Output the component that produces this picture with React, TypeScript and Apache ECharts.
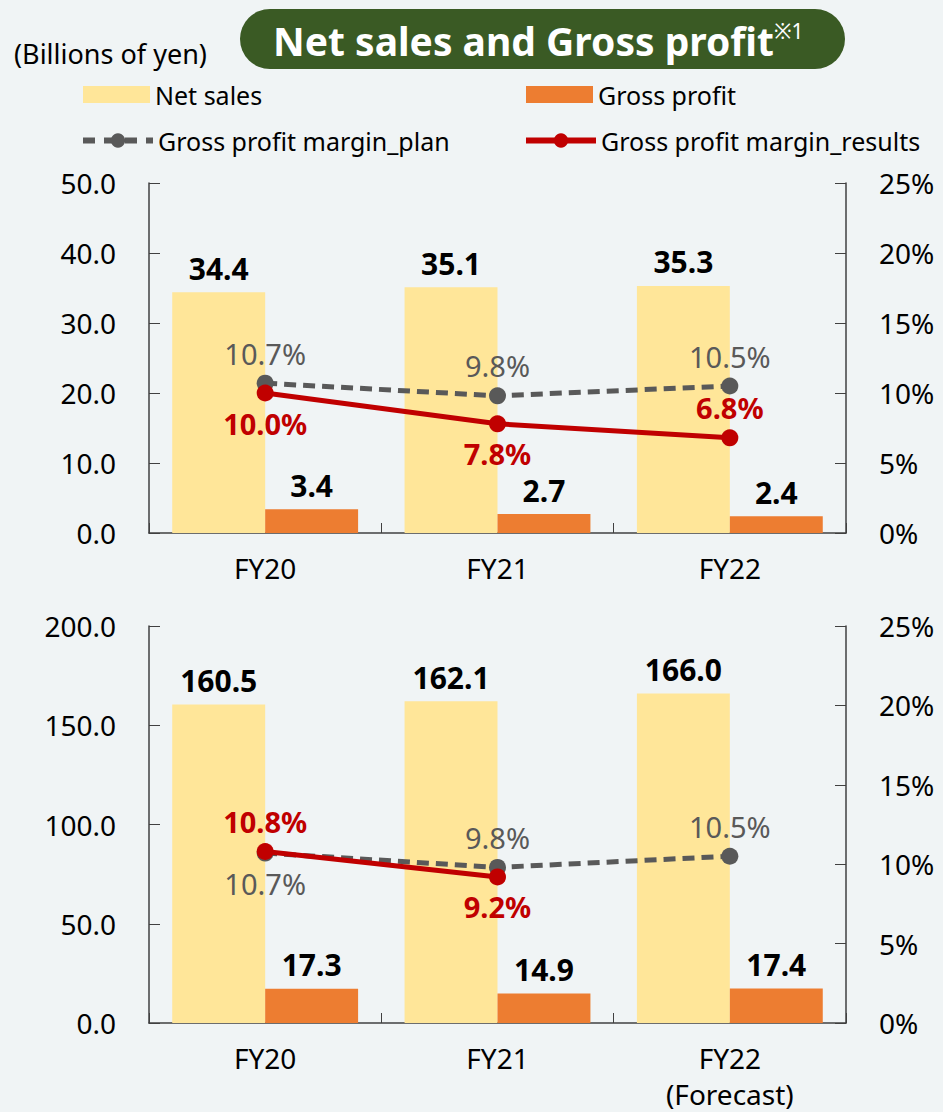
import React, { useEffect, useRef } from "react";
import * as echarts from "echarts";

const categoriesTop = ["FY20", "FY21", "FY22"];
const categoriesBottom = ["FY20", "FY21", "FY22\n(Forecast)"];

const netSalesTop = [34.4, 35.1, 35.3];
const grossProfitTop = [3.4, 2.7, 2.4];
const marginPlanTop = [10.7, 9.8, 10.5];
const marginResultsTop = [10.0, 7.8, 6.8];

const netSalesBottom = [160.5, 162.1, 166.0];
const grossProfitBottom = [17.3, 14.9, 17.4];
const marginPlanBottom = [10.7, 9.8, 10.5];
const marginResultsBottom: (number | null)[] = [10.8, 9.2, null];

const leftTicksTop = { min: 0, max: 50, interval: 10 };
const leftTicksBottom = { min: 0, max: 200, interval: 50 };
const rightTicks = { min: 0, max: 25, interval: 5 };

const FONT = "'Noto Sans', 'Noto Sans CJK JP', sans-serif";
const BG = "#F0F4F5";
const C_NET = "#FFE699";
const C_GROSS = "#ED7D31";
const C_PLAN = "#595959";
const C_RES = "#C00000";
const C_AXIS = "#404040";

function withPos(values: (number | null)[], positions: string[]) {
  return values.map((v, i) =>
    v === null ? null : { value: v, label: { position: positions[i] } }
  );
}

export default function App() {
  const ref = useRef<HTMLDivElement>(null);

  useEffect(() => {
    if (!ref.current) return;
    const chart = echarts.init(ref.current, null, { renderer: "svg" });

    const grids = [
      { left: 149, right: 97, top: 183, height: 350 },
      { left: 149, right: 97, top: 626, height: 399 },
    ];

    const xAxisBase = (cats: string[], gridIndex: number) => ({
      type: "category",
      gridIndex,
      data: cats,
      axisLine: { show: true, lineStyle: { color: C_AXIS, width: 1.5 } },
      axisTick: { show: true, inside: true, length: 10, lineStyle: { color: C_AXIS } },
      axisLabel: {
        color: "#000",
        fontSize: 28,
        fontFamily: FONT,
        margin: 17,
        lineHeight: 36,
      },
    });

    const yLeft = (t: any, gridIndex: number) => ({
      type: "value",
      gridIndex,
      position: "left",
      min: t.min,
      max: t.max,
      interval: t.interval,
      splitLine: { show: false },
      axisLine: { show: true, lineStyle: { color: C_AXIS, width: 1.5 } },
      axisTick: { show: true, inside: true, length: 11, lineStyle: { color: C_AXIS } },
      axisLabel: {
        color: "#000",
        fontSize: 28,
        fontFamily: FONT,
        margin: 33,
        formatter: (v: number) => v.toFixed(1),
      },
    });

    const yRight = (gridIndex: number) => ({
      type: "value",
      gridIndex,
      position: "right",
      min: rightTicks.min,
      max: rightTicks.max,
      interval: rightTicks.interval,
      splitLine: { show: false },
      axisLine: { show: true, lineStyle: { color: C_AXIS, width: 1.5 } },
      axisTick: { show: true, inside: true, length: 11, lineStyle: { color: C_AXIS } },
      axisLabel: {
        color: "#000",
        fontSize: 28,
        fontFamily: FONT,
        margin: 33,
        formatter: (v: number) => `${v}%`,
      },
    });

    const barSeries = (name: string, data: number[], color: string, xi: number, yi: number) => ({
      name,
      type: "bar",
      xAxisIndex: xi,
      yAxisIndex: yi,
      data,
      barGap: "0%",
      barCategoryGap: "20%",
      itemStyle: { color },
      label: {
        show: true,
        position: "top",
        distance: 9,
        color: "#000",
        fontSize: 30,
        fontWeight: "bold",
        fontFamily: FONT,
        formatter: (p: any) => Number(p.value).toFixed(1),
      },
    });

    const planSeries = (data: any[], xi: number, yi: number) => ({
      name: "Gross profit margin_plan",
      type: "line",
      xAxisIndex: xi,
      yAxisIndex: yi,
      data,
      symbol: "circle",
      symbolSize: 17,
      lineStyle: { color: C_PLAN, width: 5, type: [12, 7] },
      itemStyle: { color: C_PLAN },
      z: 3,
      label: {
        show: true,
        distance: 7,
        color: C_PLAN,
        fontSize: 29,
        fontFamily: FONT,
        formatter: (p: any) => `${Number(p.value).toFixed(1)}%`,
      },
    });

    const resultsSeries = (data: any[], xi: number, yi: number) => ({
      name: "Gross profit margin_results",
      type: "line",
      xAxisIndex: xi,
      yAxisIndex: yi,
      data,
      symbol: "circle",
      symbolSize: 17,
      lineStyle: { color: C_RES, width: 5 },
      itemStyle: { color: C_RES },
      z: 4,
      label: {
        show: true,
        distance: 7,
        color: C_RES,
        fontSize: 29,
        fontWeight: "bold",
        fontFamily: FONT,
        formatter: (p: any) => `${Number(p.value).toFixed(1)}%`,
      },
    });

    const legendBase = (name: string, left: number, top: number, w: number, h: number) => ({
      data: [name],
      left,
      top,
      itemWidth: w,
      itemHeight: h,
      selectedMode: false,
      textStyle: { color: "#000", fontSize: 25, fontFamily: FONT },
    });

    const option: any = {
      animation: false,
      backgroundColor: BG,
      textStyle: { fontFamily: FONT },
      grid: grids,
      legend: [
        { ...legendBase("Net sales", 78, 77, 67, 17), icon: "rect" },
        { ...legendBase("Gross profit", 521, 77, 67, 17), icon: "rect" },
        {
          ...legendBase("Gross profit margin_plan", 75, 123, 70, 18),
          lineStyle: { width: 6, type: [12, 9] },
        },
        {
          ...legendBase("Gross profit margin_results", 518, 123, 70, 18),
          lineStyle: { width: 6 },
        },
      ],
      xAxis: [xAxisBase(categoriesTop, 0), xAxisBase(categoriesBottom, 1)],
      yAxis: [yLeft(leftTicksTop, 0), yRight(0), yLeft(leftTicksBottom, 1), yRight(1)],
      series: [
        barSeries("Net sales", netSalesTop, C_NET, 0, 0),
        barSeries("Gross profit", grossProfitTop, C_GROSS, 0, 0),
        planSeries(withPos(marginPlanTop, ["top", "top", "top"]), 0, 1),
        resultsSeries(withPos(marginResultsTop, ["bottom", "bottom", "top"]), 0, 1),
        barSeries("Net sales", netSalesBottom, C_NET, 1, 2),
        barSeries("Gross profit", grossProfitBottom, C_GROSS, 1, 2),
        planSeries(withPos(marginPlanBottom, ["bottom", "top", "top"]), 1, 3),
        resultsSeries(withPos(marginResultsBottom, ["top", "bottom", "top"]), 1, 3),
      ],
      graphic: [
        {
          type: "rect",
          shape: { x: 240, y: 9, width: 605, height: 60, r: 30 },
          style: { fill: "#3A5A24" },
        },
        {
          type: "text",
          x: 273,
          y: 40,
          style: {
            text: "{t|Net sales and Gross profit}{s|※1}",
            verticalAlign: "middle",
            align: "left",
            rich: {
              t: { fontSize: 39, fontWeight: "bold", fill: "#fff", fontFamily: FONT },
              s: {
                fontSize: 21,
                fill: "#fff",
                fontFamily: FONT,
                verticalAlign: "top",
                padding: [0, 0, 16, 0],
              },
            },
          },
        },
        {
          type: "text",
          x: 14,
          y: 53,
          style: {
            text: "(Billions of yen)",
            fontSize: 27,
            fill: "#000",
            fontFamily: FONT,
            verticalAlign: "middle",
          },
        },
      ],
    };

    chart.setOption(option);
    return () => chart.dispose();
  }, []);

  return (
    <div
      ref={ref}
      style={{ position: "absolute", left: 0, top: 0, width: 943, height: 1112 }}
    />
  );
}
